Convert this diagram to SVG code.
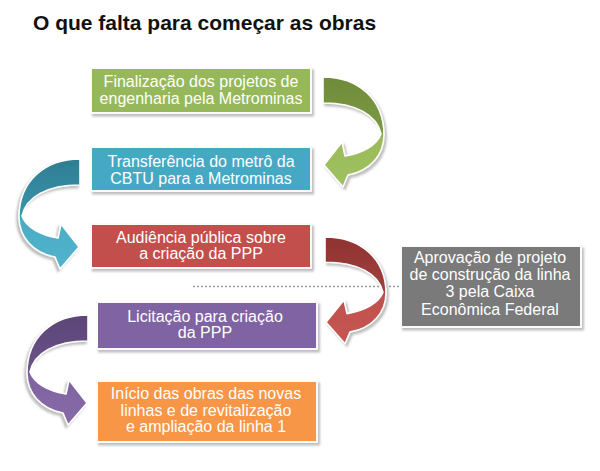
<svg xmlns="http://www.w3.org/2000/svg" width="600" height="471" viewBox="0 0 600 471">
<style>
.title{font-family:"Liberation Sans",Arial,sans-serif;font-weight:bold;font-size:21px;fill:#111}
.lbl{font-family:"Liberation Sans",Arial,sans-serif;font-size:16px;fill:#fff;text-anchor:middle}
.box{stroke:#fbfbfb;stroke-width:2;filter:url(#sh)}
.arr{stroke:#fff;stroke-width:1.6;stroke-linejoin:round;filter:url(#sh)}
</style>
<defs>
<filter id="sh" x="-20%" y="-20%" width="140%" height="140%">
<feDropShadow dx="2" dy="2.5" stdDeviation="1.3" flood-color="#888" flood-opacity="0.55"/>
</filter>
<path id="carrow" d="M0 0 C35 0 61 22 61 58 C61 78 47 94 25 98 L20 110 L1 88 L19 65 L22 79 C40 76 54 68 58 57 C54 38 33 26 0 26 Z"/>
<linearGradient id="gG" x1="0" y1="0" x2="0" y2="1"><stop offset="0" stop-color="#6f8b3a"/><stop offset="0.5" stop-color="#7c9a42"/><stop offset="0.56" stop-color="#9bbb59"/><stop offset="1" stop-color="#9fc160"/></linearGradient>
<linearGradient id="gB" x1="0" y1="0" x2="0" y2="1"><stop offset="0" stop-color="#2e7d93"/><stop offset="0.5" stop-color="#3a93ab"/><stop offset="0.56" stop-color="#4bacc6"/><stop offset="1" stop-color="#52b3cc"/></linearGradient>
<linearGradient id="gR" x1="0" y1="0" x2="0" y2="1"><stop offset="0" stop-color="#8e3331"/><stop offset="0.5" stop-color="#a2403d"/><stop offset="0.56" stop-color="#c0504d"/><stop offset="1" stop-color="#c55653"/></linearGradient>
<linearGradient id="gP" x1="0" y1="0" x2="0" y2="1"><stop offset="0" stop-color="#5b4577"/><stop offset="0.5" stop-color="#6b5389"/><stop offset="0.56" stop-color="#8064a2"/><stop offset="1" stop-color="#866aa8"/></linearGradient>
</defs>
<rect width="600" height="471" fill="#fff"/>
<text class="title" x="33" y="30">O que falta para começar as obras</text>

<g id="connectors">
<line x1="193" y1="286.5" x2="400" y2="286.5" stroke="#9a9a9a" stroke-width="1.6" stroke-dasharray="2 2"/>
<use href="#carrow" class="arr" fill="url(#gG)" transform="translate(323,77)"/>
<use href="#carrow" class="arr" fill="url(#gB)" transform="translate(80,159) scale(-1,1)"/>
<use href="#carrow" class="arr" fill="url(#gR)" transform="translate(325,237) scale(1,0.97)"/>
<use href="#carrow" class="arr" fill="url(#gP)" transform="translate(88,315) scale(-1,1)"/>
</g>

<g id="n1">
<rect class="box" x="91" y="68" width="220" height="45" fill="#96b85a"/>
<text class="lbl" x="201" y="87">Finalização dos projetos de</text>
<text class="lbl" x="201" y="104">engenharia pela Metrominas</text>
</g>
<g id="n2">
<rect class="box" x="91" y="147" width="220" height="44" fill="#45a9c4"/>
<text class="lbl" x="201" y="167">Transferência do metrô da</text>
<text class="lbl" x="201" y="184">CBTU para a Metrominas</text>
</g>
<g id="n3">
<rect class="box" x="91" y="224" width="220" height="44" fill="#c24f4c"/>
<text class="lbl" x="201" y="243">Audiência pública sobre</text>
<text class="lbl" x="201" y="259">a criação da PPP</text>
</g>
<g id="n4">
<rect class="box" x="97" y="302" width="220" height="47" fill="#8064a2"/>
<text class="lbl" x="205" y="322">Licitação para criação</text>
<text class="lbl" x="205" y="338">da PPP</text>
</g>
<g id="n5">
<rect class="box" x="97" y="381" width="220" height="61" fill="#f79646"/>
<text class="lbl" x="206" y="399">Início das obras das novas</text>
<text class="lbl" x="206" y="416">linhas e de revitalização</text>
<text class="lbl" x="206" y="432">e ampliação da linha 1</text>
</g>
<g id="n6">
<rect class="box" x="401" y="246" width="180" height="81" fill="#7a7a7a"/>
<text class="lbl" x="490" y="263">Aprovação de projeto</text>
<text class="lbl" x="490" y="280">de construção da linha</text>
<text class="lbl" x="490" y="297">3 pela Caixa</text>
<text class="lbl" x="490" y="315">Econômica Federal</text>
</g>
</svg>
